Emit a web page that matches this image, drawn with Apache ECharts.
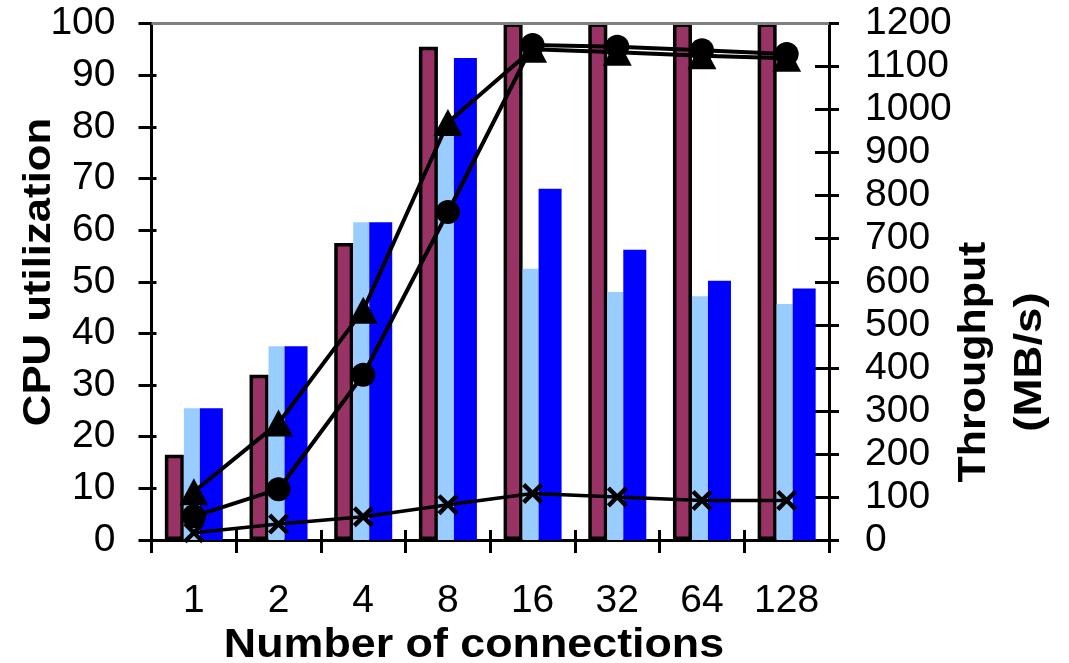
<!DOCTYPE html>
<html>
<head>
<meta charset="utf-8">
<script src="https://cdn.jsdelivr.net/npm/echarts@6/dist/echarts.min.js"></script>
<style>
html,body{margin:0;padding:0;background:#fff;}
#chart{width:1069px;height:663px;}
</style>
</head>
<body>
<div id="chart"></div>
<script>
// ---- data ----
var categories = ['1', '2', '4', '8', '16', '32', '64', '128'];
var cpuA = [16.5, 32, 57.5, 95.5, 100, 100, 100, 100];   // maroon bars
var cpuB = [25.5, 37.5, 61.5, 80, 52.5, 48, 47.2, 45.7];  // light blue bars
var cpuC = [25.5, 37.5, 61.5, 93.3, 68, 56.2, 50.2, 48.7]; // blue bars
var thrTriangle = [112, 272, 534, 970, 1140, 1133, 1125, 1119];
var thrCircle = [55, 118, 384, 762, 1150, 1146, 1138, 1129];
var thrCross = [17, 37, 54, 82, 108, 100, 92, 92];
var leftTicks = {min: 0, max: 100, interval: 10};
var rightTicks = {min: 0, max: 1200, interval: 100};

var FONT = '"Liberation Sans", Arial, sans-serif';
var crossPath = 'path://M0,1.5L1.5,0L5,3.5L8.5,0L10,1.5L6.5,5L10,8.5L8.5,10L5,6.5L1.5,10L0,8.5L3.5,5Z';

var chart = echarts.init(document.getElementById('chart'));
var axisLabelStyle = {color: '#000', fontSize: 39, fontFamily: FONT};
var plain = function (v) { return String(v); };

var option = {
  animation: false,
  backgroundColor: '#fff',
  grid: {left: 151.5, right: 240, top: 23.5, bottom: 123, containLabel: false},
  xAxis: [
    {
      type: 'category', data: categories, position: 'bottom',
      axisLine: {lineStyle: {color: '#000', width: 3}},
      axisTick: {show: true, inside: false, length: 13, lineStyle: {color: '#000', width: 3}},
      axisLabel: Object.assign({margin: 42}, axisLabelStyle),
      splitLine: {show: false}
    },
    {
      type: 'category', data: categories, position: 'bottom',
      axisLine: {show: false},
      axisTick: {show: true, inside: true, length: 10, lineStyle: {color: '#000', width: 3}},
      axisLabel: {show: false},
      splitLine: {show: false}
    }
  ],
  yAxis: [
    {
      type: 'value', position: 'left', min: leftTicks.min, max: leftTicks.max, interval: leftTicks.interval,
      axisLine: {show: true, lineStyle: {color: '#000', width: 3}},
      axisTick: {show: true, inside: false, length: 13, lineStyle: {color: '#000', width: 3}},
      axisLabel: Object.assign({margin: 36, formatter: plain}, axisLabelStyle),
      splitLine: {show: false}
    },
    {
      type: 'value', position: 'right', min: rightTicks.min, max: rightTicks.max, interval: rightTicks.interval,
      axisLine: {show: true, lineStyle: {color: '#000', width: 3}},
      axisTick: {show: true, inside: false, length: 10, lineStyle: {color: '#000', width: 3}},
      axisLabel: Object.assign({margin: 36, formatter: plain}, axisLabelStyle),
      splitLine: {show: false}
    },
    {
      type: 'value', position: 'left', min: leftTicks.min, max: leftTicks.max, interval: leftTicks.interval,
      axisLine: {show: false},
      axisTick: {show: true, inside: true, length: 5, lineStyle: {color: '#000', width: 3}},
      axisLabel: {show: false}, splitLine: {show: false}
    },
    {
      type: 'value', position: 'right', min: rightTicks.min, max: rightTicks.max, interval: rightTicks.interval,
      axisLine: {show: false},
      axisTick: {show: true, inside: true, length: 14, lineStyle: {color: '#000', width: 3}},
      axisLabel: {show: false}, splitLine: {show: false}
    }
  ],
  graphic: [
    {type: 'text', x: 40, y: 272, rotation: Math.PI / 2, scaleX: 1.15,
     style: {text: 'CPU utilization', font: 'bold 38px ' + FONT, fill: '#000', align: 'center', verticalAlign: 'middle'}},
    {type: 'text', x: 975, y: 362, rotation: Math.PI / 2, scaleX: 1.13,
     style: {text: 'Throughput', font: 'bold 38px ' + FONT, fill: '#000', align: 'center', verticalAlign: 'middle'}},
    {type: 'text', x: 1031, y: 362, rotation: Math.PI / 2, scaleX: 1.2,
     style: {text: '(MB/s)', font: 'bold 38px ' + FONT, fill: '#000', align: 'center', verticalAlign: 'middle'}},
    {type: 'text', x: 474, y: 646, scaleX: 1.12,
     style: {text: 'Number of connections', font: 'bold 40px ' + FONT, fill: '#000', align: 'center', verticalAlign: 'middle'}}
  ],
  series: [
    {
      type: 'bar', data: cpuA, xAxisIndex: 0, yAxisIndex: 0, barWidth: 19, barGap: '0%',
      itemStyle: {color: '#993366', borderColor: '#000', borderWidth: 3.5},
      markLine: {silent: true, symbol: 'none', label: {show: false},
        lineStyle: {color: '#808080', width: 3, type: 'solid'},
        data: [{yAxis: leftTicks.max}]}
    },
    {
      type: 'bar', data: cpuB, xAxisIndex: 0, yAxisIndex: 0, barWidth: 16, barGap: '0%',
      itemStyle: {color: '#99CCFF'}
    },
    {
      type: 'bar', data: cpuC, xAxisIndex: 0, yAxisIndex: 0, barWidth: 23, barGap: '0%',
      itemStyle: {color: '#0000FF'}
    },
    {
      type: 'line', data: thrTriangle, xAxisIndex: 0, yAxisIndex: 1,
      symbol: 'triangle', symbolSize: [29, 27], showAllSymbol: true,
      lineStyle: {color: '#000', width: 4}, itemStyle: {color: '#000'}
    },
    {
      type: 'line', data: thrCircle, xAxisIndex: 0, yAxisIndex: 1,
      symbol: 'circle', symbolSize: 24, showAllSymbol: true,
      lineStyle: {color: '#000', width: 4}, itemStyle: {color: '#000'}
    },
    {
      type: 'line', data: thrCross, xAxisIndex: 0, yAxisIndex: 1,
      symbol: crossPath, symbolSize: 21, showAllSymbol: true,
      lineStyle: {color: '#000', width: 3.5}, itemStyle: {color: '#000'}
    }
  ]
};
chart.setOption(option);
</script>
</body>
</html>
